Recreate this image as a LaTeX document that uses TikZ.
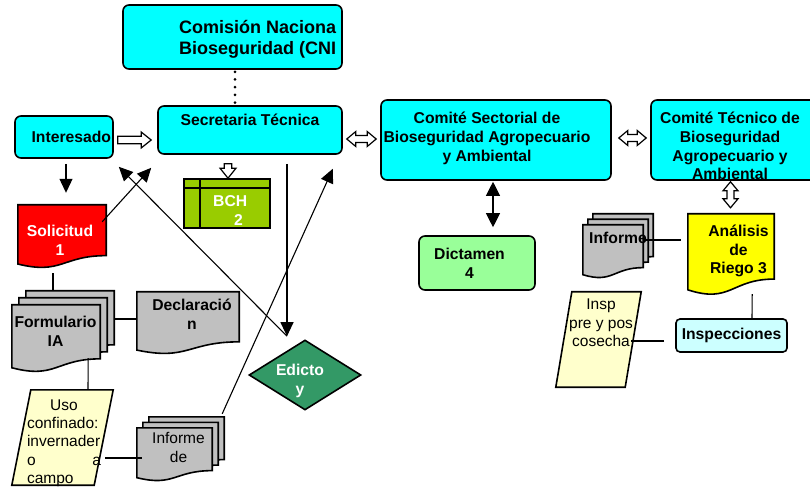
\documentclass[tikz,border=0pt]{standalone}
\usepackage{fontspec}
\setmainfont{Liberation Sans}
\usetikzlibrary{shapes,positioning,calc,arrows.meta}

\definecolor{cian}{HTML}{00FFFF}
\definecolor{celeste}{HTML}{CCFFFF}
\definecolor{rojo}{HTML}{FF0000}
\definecolor{gris}{HTML}{C0C0C0}
\definecolor{amarillo}{HTML}{FFFF00}
\definecolor{crema}{HTML}{FFFFCC}
\definecolor{oliva}{HTML}{99CC00}
\definecolor{verdecl}{HTML}{99FF99}
\definecolor{verdeosc}{HTML}{339966}

\tikzset{
  negrita/.style={font=\fontsize{15.7}{18.7}\selectfont\bfseries},
  fina/.style={font=\fontsize{15.5}{18.3}\selectfont},
  txt/.style={negrita, align=center, inner sep=0pt},
  caja/.style={draw, line width=1.6pt, rounded corners=6pt, fill=cian, inner sep=0pt},
  hoja/.style={inner sep=0pt},
  borde/.style={draw, line width=1.6pt},
  linea/.style={line width=1.1pt},
  puntos/.style={line width=3pt, line cap=round, dash pattern=on 0pt off 7.7pt},
  flecha/.style={line width=1.1pt, -{Triangle[length=14pt,width=13pt]}},
  flecha2/.style={line width=1.1pt, {Triangle[length=14pt,width=14pt]}-{Triangle[length=14pt,width=14pt]}},
  % documento con borde ondulado
  documento/.style={insert path={(#1.north west) -- (#1.north east)
    -- ($(#1.south east)!0.198!(#1.north east)$)
    .. controls ($(#1.south)!0.198!(#1.north)$) and ($(#1.south)!-0.107!(#1.north)$)
    .. ($(#1.south west)!0.066!(#1.north west)$) -- cycle}},
  paralelo/.style 2 args={insert path={(#1.south west) -- ($(#1.south east)+(-#2,0)$)
    -- (#1.north east) -- ($(#1.north west)+(#2,0)$) -- cycle}},
  % flechas huecas
  hueca/.style={draw, fill=white, line width=1.2pt, to path={
    let \p1=(\tikztostart), \p2=(\tikztotarget),
        \n1={atan2(\y2-\y1,\x2-\x1)}, \n2={veclen(\x2-\x1,\y2-\y1)} in
    ([shift={(\p1)},rotate=\n1]0,3.8) -- ([shift={(\p1)},rotate=\n1]\n2-10,3.8)
    -- ([shift={(\p1)},rotate=\n1]\n2-10,8) -- ([shift={(\p1)},rotate=\n1]\n2,0)
    -- ([shift={(\p1)},rotate=\n1]\n2-10,-8) -- ([shift={(\p1)},rotate=\n1]\n2-10,-3.8)
    -- ([shift={(\p1)},rotate=\n1]0,-3.8) -- cycle}},
  hueca2/.style={draw, fill=white, line width=1.2pt, to path={
    let \p1=(\tikztostart), \p2=(\tikztotarget),
        \n1={atan2(\y2-\y1,\x2-\x1)}, \n2={veclen(\x2-\x1,\y2-\y1)} in
    ([shift={(\p1)},rotate=\n1]0,0) -- ([shift={(\p1)},rotate=\n1]9,7.5)
    -- ([shift={(\p1)},rotate=\n1]9,3.5) -- ([shift={(\p1)},rotate=\n1]\n2-9,3.5)
    -- ([shift={(\p1)},rotate=\n1]\n2-9,7.5) -- ([shift={(\p1)},rotate=\n1]\n2,0)
    -- ([shift={(\p1)},rotate=\n1]\n2-9,-7.5) -- ([shift={(\p1)},rotate=\n1]\n2-9,-3.5)
    -- ([shift={(\p1)},rotate=\n1]9,-3.5) -- ([shift={(\p1)},rotate=\n1]9,-7.5) -- cycle}},
}

\begin{document}
\begin{tikzpicture}[x=1pt, y=1pt]
  \useasboundingbox (0,0) rectangle (810,487);

  % cajas
  \node[caja, minimum width=219pt, minimum height=64pt] (cnb) at (232.5,450) {};
  \node[txt, font=\fontsize{18}{21}\selectfont\bfseries, anchor=west, align=left] (cnbt) at (179,447.5) {Comisión Naciona\\Bioseguridad (CNI};
  \node[caja, minimum width=184pt, minimum height=48pt] (sec) at (250,357) {};
  \node[txt] (sect) at (250,367) {Secretaria Técnica};
  \node[caja, negrita, minimum width=98pt, minimum height=42pt, text width=94pt, align=right, inner xsep=2pt] (int) at (64,350) {Interesado};
  \node[caja, minimum width=230pt, minimum height=80pt] (cs) at (496,347) {};
  \node[txt] (cst) at (487,348.5) {Comité Sectorial de\\Bioseguridad Agropecuario\\y Ambiental};
  \node[caja, minimum width=170pt, minimum height=80pt] (ct) at (736,347) {};
  \node[txt] (ctt) at (730,341) {Comité Técnico de\\Bioseguridad\\Agropecuario y\\Ambiental};
  \node[caja, fill=verdecl, minimum width=116pt, minimum height=54pt] (dict) at (477,224) {};
  \node[txt] (dictt) at (469.5,224) {Dictamen\\4};
  \node[caja, fill=celeste, rounded corners=4pt, negrita, minimum width=111pt, minimum height=33pt] (inspec) at (731.5,151.5) {Inspecciones};

  \node[borde, fill=oliva, minimum width=86pt, minimum height=49pt, inner sep=0pt] (bch) at (227,283.5) {};
  \draw[borde] ([yshift=-10pt]bch.north west) -- ([yshift=-10pt]bch.north east);
  \draw[borde] ([xshift=17pt]bch.north west) -- ([xshift=17pt]bch.south west);
  \node[txt, text=white, anchor=west, align=left] (bcht) at (213,276.75) {BCH\\\hspace*{21pt}2};

  \node[borde, diamond, fill=verdeosc, minimum width=112pt, minimum height=70pt, inner sep=0pt] (edicto) at (305,112) {};
  \node[txt, text=white] (edictot) at (300,106) {Edicto\\y};

  % documentos
  \node[hoja, minimum width=88pt, minimum height=63pt] (sol) at (62,250.5) {};
  \foreach \n/\d in {c/14,b/7,a/0}
    \node[hoja, minimum width=88pt, minimum height=67pt] (form\n) at (56+\d,148.5+\d) {};
  \node[hoja, minimum width=102pt, minimum height=62pt] (decl) at (188,164) {};
  \foreach \n/\d in {c/2,b/1,a/0}
    \node[hoja, minimum width=75pt, minimum height=53pt] (infd\n) at (174.5+6*\d,32.5+5.5*\d) {};
  \node[hoja, minimum width=86pt, minimum height=81pt] (ana) at (731,232.5) {};
  \foreach \n/\d in {c/2,b/1,a/0}
    \node[hoja, minimum width=60pt, minimum height=53pt] (inf\n) at (613+5*\d,235.5+5.5*\d) {};
  \node[hoja, minimum width=101pt, minimum height=95pt] (uso) at (62.5,49.5) {};
  \node[hoja, minimum width=85pt, minimum height=95pt] (insp) at (598.5,147.5) {};

  \draw[borde, fill=rojo] [documento=sol];
  \foreach \n in {c,b,a} \draw[borde, fill=gris] [documento=form\n];
  \draw[borde, fill=gris] [documento=decl];
  \foreach \n in {c,b,a} \draw[borde, fill=gris] [documento=infd\n];
  \draw[borde, fill=amarillo] [documento=ana];
  \foreach \n in {c,b,a} \draw[borde, fill=gris] [documento=inf\n];
  \draw[borde, fill=crema] [paralelo={uso}{19}];
  \draw[borde, fill=crema] [paralelo={insp}{16}];

  \node[txt, text=white] (solt) at (60,246.5) {Solicitud\\1};
  \node[txt] (formt) at (55.5,156) {Formulario\\IA};
  \node[txt] (declt) at (192,173) {Declaració\\n};
  \node[fina, align=center, inner sep=0pt] (infdet) at (178.5,39.5) {Informe\\de};
  \node[txt] (anat) at (738.5,236) {Análisis\\de\\Riego 3};
  \node[txt] (inft) at (618,249) {Informe};
  \node[fina, align=left, text width=74pt, inner sep=0pt] (usot) at (64,44) {\hfill Uso\hfill\mbox{}\\confinado:\\invernader\\o\hfill a\\campo};
  \node[fina, align=center, inner sep=0pt] (inspt) at (601,164) {Insp\\pre y pos\\cosecha};

  % conectores
  \draw[puntos] (cnb.south) ++(2.5,-2) -- (sec.north -| 235,0);
  \draw[hueca] (int.east) ++(4,-3) to ($(sec.west)+(-6,-10)$);
  \draw[hueca2] (sec.east) ++(4,-9) to ($(cs.west)+(-4,1)$);
  \draw[hueca2] (cs.east) ++(7,2) to ($(ct.west)+(-4,2)$);
  \draw[hueca2] (ct.south) ++(-5.5,-1) to ($(ana.north)+(-0.5,6)$);
  \draw[hueca] (sec.south) ++(-22,-9) to ($(bch.north)+(1,0)$);
  \draw[flecha] (int.south) ++(2,-5) -- ($(sol.north)+(4,12)$);
  \draw[flecha] (sol.north east) ++(-4,-17) -- ($(sec.south west)+(-6,-13)$);
  \draw[flecha] (edicto.north) ++(-18,3) -- ($(int.south east)+(5,-8)$);
  \draw[flecha] (sec.south) ++(37,-9) -- ($(edicto.north)+(-18,3)$);
  \draw[flecha] (infdc.north east) ++(-2,3) -- ($(sec.south east)+(-10,-14)$);
  \draw[flecha2] (cs.south) ++(-3,-1) -- ($(dict.north)+(16,8)$);
  \draw[linea] (sol.south) ++(-9,-5) -- (formc.north -| 53,0);
  \draw[linea] (formc.east |- 0,168) -- (decl.west |- 0,168);
  \draw[linea] (forma.south east) ++(-12,14) -- (uso.north -| 88,0);
  \draw[linea] (uso.east |- 0,29) ++(-8,0) -- ($(infda.west |- 0,29)+(5,0)$);
  \draw[linea] (infa.east |- 0,247) -- ($(ana.west |- 0,247)+(-7,0)$);
  \draw[linea] (ana.south east) ++(-22,1) -- (inspec.north -| 752,0);
  \draw[linea] (inspec.west) ++(-11,-5.5) -- ($(insp.east |- 0,146)+(-10,0)$);
\end{tikzpicture}
\end{document}
